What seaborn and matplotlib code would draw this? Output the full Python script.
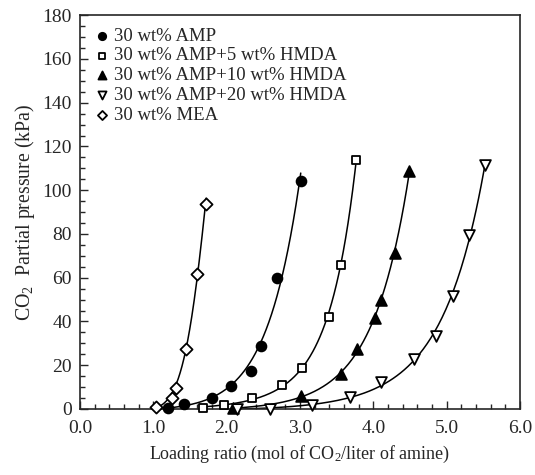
import numpy as np
import pandas as pd
import matplotlib
matplotlib.use("Agg")
import matplotlib.pyplot as plt
import seaborn as sns
from matplotlib.ticker import MultipleLocator, FormatStrFormatter

# Dados (razão de carga x pressão parcial de CO2)
amp_x = [1.20, 1.42, 1.80, 2.06, 2.33, 2.47, 2.68, 3.01]
amp_y = [0.3, 2.1, 5.2, 10.6, 17.4, 28.9, 59.7, 104.0]

hmda5_x = [1.68, 1.96, 2.35, 2.76, 3.03, 3.40, 3.56, 3.76]
hmda5_y = [0.6, 1.8, 5.2, 11.0, 18.9, 42.0, 65.8, 114.0]

hmda10_x = [2.09, 3.02, 3.56, 3.78, 4.02, 4.10, 4.29, 4.49]
hmda10_y = [0.3, 5.9, 15.8, 27.4, 41.6, 49.7, 71.3, 108.7]

hmda20_x = [2.14, 2.59, 3.17, 3.68, 4.10, 4.56, 4.85, 5.09, 5.30, 5.52]
hmda20_y = [0.0, 0.2, 1.8, 5.6, 12.2, 22.8, 33.3, 51.6, 79.5, 111.4]

mea_x = [1.03, 1.25, 1.31, 1.44, 1.59, 1.72]
mea_y = [1.0, 5.2, 9.7, 27.6, 61.5, 93.9]

series = ["30 wt% AMP", "30 wt% AMP+5 wt% HMDA", "30 wt% AMP+10 wt% HMDA",
          "30 wt% AMP+20 wt% HMDA", "30 wt% MEA"]
xs = [amp_x, hmda5_x, hmda10_x, hmda20_x, mea_x]
ys = [amp_y, hmda5_y, hmda10_y, hmda20_y, mea_y]

frames = []
for nome, x, y in zip(series, xs, ys):
    frames.append(pd.DataFrame({"x": x, "y": y, "serie": nome}))
df = pd.concat(frames, ignore_index=True)

sns.set_style("ticks")
plt.rcParams["font.family"] = ["Liberation Serif", "DejaVu Serif"]
plt.rcParams["mathtext.fontset"] = "stix"

fig = plt.figure(figsize=(5.35, 4.75), dpi=100)
ax = fig.add_axes([0.1495, 0.139, 0.8225, 0.829])

# estilos dos marcadores
estilos = {
    series[0]: dict(marker="o", facecolor="black", s=50),
    series[1]: dict(marker="s", facecolor="white", s=40),
    series[2]: dict(marker="^", facecolor="black", s=60),
    series[3]: dict(marker="v", facecolor="white", s=60),
    series[4]: dict(marker="D", facecolor="white", s=38),
}

# curvas de ajuste (exp de polinômio de 2º grau)
for nome, x, y in zip(series, xs, ys):
    x = np.array(x)
    y = np.array(y)
    coef = np.polyfit(x, np.log(y + 0.8), 2, w=np.sqrt(y + 1.0) + 0.5)
    xx = np.linspace(x.min() - 0.03, x.max(), 200)
    yy = np.exp(np.polyval(coef, xx)) - 0.8
    ax.plot(xx, np.clip(yy, 0, None), color="black", lw=1.1, zorder=2)

for nome in series:
    sub = df[df["serie"] == nome]
    st = estilos[nome]
    sns.scatterplot(data=sub, x="x", y="y", marker=st["marker"], s=st["s"],
                    facecolor=st["facecolor"], edgecolor="black", linewidth=1.3,
                    label=nome, ax=ax, zorder=3, clip_on=False)

ax.set_xlim(0, 6)
ax.set_ylim(0, 180)
ax.xaxis.set_major_locator(MultipleLocator(1))
ax.xaxis.set_minor_locator(MultipleLocator(0.2))
ax.yaxis.set_major_locator(MultipleLocator(20))
ax.yaxis.set_minor_locator(MultipleLocator(5))
ax.xaxis.set_major_formatter(FormatStrFormatter("%.1f"))
ax.tick_params(which="major", direction="in", length=6, width=1, labelsize=14)
ax.tick_params(axis="x", which="major", pad=8)
ax.tick_params(axis="y", which="major", pad=6)
ax.tick_params(which="minor", direction="in", length=3.5, width=1)
for sp in ax.spines.values():
    sp.set_linewidth(1.2)
    sp.set_visible(True)

ax.set_xlabel(r"Loading ratio (mol of $\mathregular{CO_2}$/liter of amine)", fontsize=13, labelpad=5)
ax.set_ylabel(r"$\mathregular{CO_2}$  Partial pressure (kPa)", fontsize=14.3, labelpad=4)

ax.legend(loc="upper left", frameon=False, fontsize=13.5, handletextpad=0.05,
          labelspacing=0.15, borderaxespad=0.25, handlelength=1.1, markerscale=0.75)

fig.savefig("out.png", dpi=100)
